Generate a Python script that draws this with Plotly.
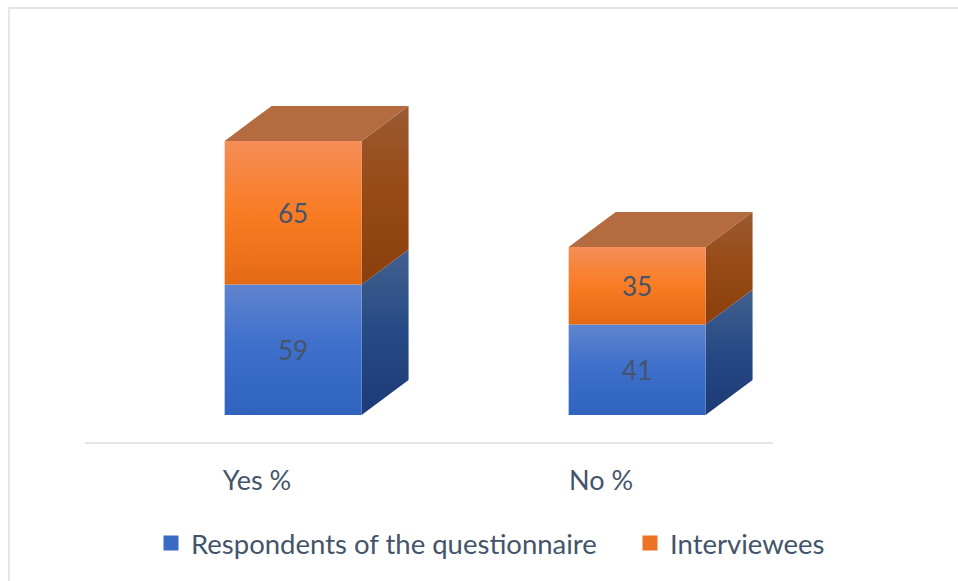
import plotly.graph_objects as go

# Data
categories = ["Yes %", "No %"]
respondents = [59, 41]
interviewees = [65, 35]
series_names = ["Respondents of the questionnaire", "Interviewees"]

# Style
FONT = "Lato"
TEXT = "#44546A"
RULE = "#E3E6EC"
W, H = 958, 581
L, R, T, B = 85, 773, 20, 442
PX_PER_UNIT = 2.21
BASE_PX = 415
YMIN = -(B - BASE_PX) / PX_PER_UNIT
YMAX = (BASE_PX - T) / PX_PER_UNIT
BAR_OFFSET = -0.094
BAR_WIDTH = 0.398
DEPTH_X = 47 / 344
DEPTH_Y = 35 / PX_PER_UNIT
LABEL_NUDGE_PX = 4

STYLES = [
    dict(front=[[0, "#2F63BE"], [0.55, "#3F70CB"], [1, "#6084CF"]],
         side=[[0, "#1D3A75"], [0.5, "#264A85"], [1, "#43608F"]],
         swatch="#3A6BC4"),
    dict(front=[[0, "#E56A15"], [0.5, "#F97C24"], [1, "#F58D57"]],
         side=[[0, "#8A3F0C"], [0.55, "#984B16"], [1, "#9A5A33"]],
         top="#B56B40", swatch="#EC7322"),
]


def face(xs, ys, colorscale=None, color=None):
    kw = dict(x=xs, y=ys, mode="lines", line=dict(width=0), fill="toself",
              hoverinfo="skip", showlegend=False)
    if colorscale:
        kw["fillgradient"] = dict(type="vertical", colorscale=colorscale)
    else:
        kw["fillcolor"] = color
    return go.Scatter(**kw)


fig = go.Figure()
label_x, label_y, label_t = [], [], []
for i in range(len(categories)):
    x0 = i + BAR_OFFSET
    x1 = x0 + BAR_WIDTH
    bottom = 0
    for s, vals in enumerate([respondents, interviewees]):
        v = vals[i]
        top = bottom + v
        st = STYLES[s]
        fig.add_trace(face([x1, x1 + DEPTH_X, x1 + DEPTH_X, x1, x1],
                           [bottom, bottom + DEPTH_Y, top + DEPTH_Y, top, bottom],
                           colorscale=st["side"]))
        fig.add_trace(face([x0, x1, x1, x0, x0],
                           [bottom, bottom, top, top, bottom],
                           colorscale=st["front"]))
        if s == 1:
            fig.add_trace(face([x0, x1, x1 + DEPTH_X, x0 + DEPTH_X, x0],
                               [top, top, top + DEPTH_Y, top + DEPTH_Y, top],
                               color=st["top"]))
        label_x.append((x0 + x1) / 2)
        label_y.append((bottom + top) / 2 - LABEL_NUDGE_PX / PX_PER_UNIT)
        label_t.append(str(v))
        bottom = top

fig.add_trace(go.Scatter(x=label_x, y=label_y, text=label_t, mode="text",
                         textposition="middle center",
                         textfont=dict(family=FONT, size=26, color=TEXT),
                         hoverinfo="skip", showlegend=False))

for s, name in enumerate(series_names):
    fig.add_trace(go.Scatter(
        x=[None], y=[None], mode="markers", name=name,
        legend="legend" if s == 0 else "legend2",
        marker=dict(symbol="square", size=15, color=STYLES[s]["swatch"]),
    ))

fx = lambda px: (px - L) / (R - L)
fy = lambda px: (B - px) / (B - T)
frame = dict(color=RULE, width=2)
shapes = [
    dict(type="line", xref="paper", yref="paper", x0=fx(8), x1=fx(958),
         y0=fy(8), y1=fy(8), line=frame),
    dict(type="line", xref="paper", yref="paper", x0=fx(9), x1=fx(9),
         y0=fy(8), y1=fy(581), line=frame),
]

legend_common = dict(orientation="h", xanchor="left", yanchor="middle",
                     y=fy(543), bgcolor="rgba(0,0,0,0)", itemwidth=30,
                     font=dict(family=FONT, size=27.5, color=TEXT))

fig.update_layout(
    width=W, height=H,
    margin=dict(l=L, r=W - R, t=T, b=H - B),
    paper_bgcolor="white", plot_bgcolor="white",
    font=dict(family=FONT, size=27, color=TEXT),
    shapes=shapes,
    xaxis=dict(range=[-0.5, 1.5], tickvals=[0, 1], ticktext=categories,
               showgrid=False, zeroline=False, showline=True, linecolor=RULE,
               linewidth=2, ticks="", ticklabelstandoff=14,
               tickfont=dict(family=FONT, size=27, color=TEXT)),
    yaxis=dict(range=[YMIN, YMAX], visible=False),
    legend=dict(x=fx(151), **legend_common),
    legend2=dict(x=fx(630), **legend_common),
)

fig.write_html("out.html", config={"displayModeBar": False},
               post_script="document.body.style.margin='0';")
